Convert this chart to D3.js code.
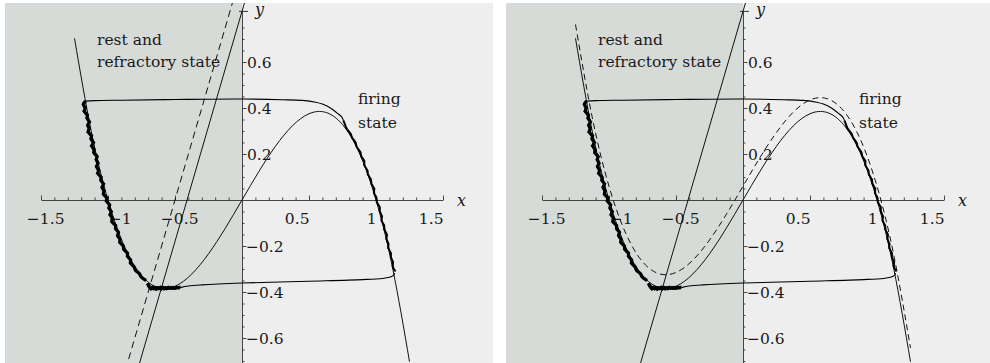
<!DOCTYPE html>
<html>
<head>
<meta charset="utf-8">
<script src="https://cdn.jsdelivr.net/npm/d3@7"></script>
<style>
  html, body { margin: 0; padding: 0; background: #ffffff; }
  svg { display: block; }
  text { font-family: "DejaVu Serif", serif; fill: #1a1a1a; }
</style>
</head>
<body>
<svg id="chart" width="990" height="363"></svg>
<script>
// ---- cubic nullcline y = x - x^3 (sampled) ----
const cubicX = [-1.25,-1.125,-1,-0.875,-0.75,-0.625,-0.5,-0.375,-0.25,-0.125,0,0.125,0.25,0.375,0.5,0.625,0.75,0.875,1,1.125,1.25];
const cubicY = [0.703,0.299,0,-0.205,-0.328,-0.381,-0.375,-0.322,-0.234,-0.123,0,0.123,0.234,0.322,0.375,0.381,0.328,0.205,0,-0.299,-0.703];
// same nullcline raised by the input current
const raisedCubicY = [0.763,0.359,0.06,-0.145,-0.268,-0.321,-0.315,-0.262,-0.174,-0.063,0.06,0.183,0.294,0.382,0.435,0.441,0.388,0.265,0.06,-0.239,-0.643];

// ---- linear nullclines ----
const lineX = [-0.78, 0.02];
const lineY = [-0.74, 0.86];
const shiftedLineX = [-0.87, -0.07];
const shiftedLineY = [-0.74, 0.86];

// ---- noisy trajectory (relaxation cycle) ----
const upperJumpX = [0.757,0.745,0.710,0.660,0.600,0.550,0.450,0.300,0.000,-0.500,-0.900,-1.100,-1.167];
const upperJumpY = [0.345,0.360,0.378,0.400,0.417,0.425,0.433,0.436,0.439,0.437,0.434,0.432,0.430];

const leftBranchX = [-1.167,-1.192,-1.162,-1.187,-1.145,-1.165,-1.129,-1.160,-1.133,-1.158,-1.114,-1.135,-1.099,-1.132,-1.096,-1.115,-1.072,-1.096,-1.066,-1.095,-1.061,-1.086,-1.044,-1.061,-1.024,-1.053,-1.023,-1.043,-1.000,-1.021,-0.979,-1.001,-0.967,-0.994,-0.956,-0.981,-0.935,-0.951,-0.913,-0.937,-0.903,-0.920,-0.877,-0.891,-0.846,-0.863,-0.823,-0.841,-0.798,-0.803,-0.759,-0.759,-0.716];
const leftBranchY = [0.430,0.415,0.400,0.385,0.370,0.355,0.340,0.325,0.310,0.295,0.280,0.265,0.250,0.235,0.220,0.205,0.190,0.175,0.160,0.145,0.130,0.115,0.100,0.085,0.070,0.055,0.040,0.025,0.010,-0.005,-0.020,-0.035,-0.050,-0.065,-0.080,-0.095,-0.110,-0.125,-0.140,-0.155,-0.170,-0.185,-0.200,-0.215,-0.230,-0.245,-0.260,-0.275,-0.290,-0.305,-0.320,-0.335,-0.350];

const plateauX = [-0.705,-0.698,-0.690,-0.680,-0.670,-0.660,-0.650,-0.640,-0.630,-0.620,-0.610,-0.600,-0.590,-0.580,-0.570,-0.560,-0.550,-0.540,-0.530,-0.520,-0.510,-0.500,-0.490,-0.480,-0.470,-0.460];
const plateauY = [-0.362,-0.372,-0.378,-0.390,-0.376,-0.389,-0.377,-0.391,-0.378,-0.388,-0.376,-0.390,-0.377,-0.389,-0.378,-0.388,-0.377,-0.387,-0.378,-0.386,-0.379,-0.385,-0.379,-0.383,-0.380,-0.381];

const lowerJumpX = [-0.460,-0.400,-0.300,0.000,0.500,0.900,1.050,1.100,1.125,1.140];
const lowerJumpY = [-0.381,-0.374,-0.369,-0.361,-0.353,-0.346,-0.341,-0.336,-0.330,-0.318];

const rightBranchX = [1.145,1.120,1.132,1.107,1.115,1.087,1.097,1.073,1.086,1.059,1.065,1.036,1.049,1.024,1.032,1.002,1.007,0.980,0.992,0.961,0.967,0.935,0.940,0.908,0.918,0.885,0.887,0.852,0.851,0.819,0.812,0.778,0.768,0.757];
const rightBranchY = [-0.31,-0.29,-0.27,-0.25,-0.23,-0.21,-0.19,-0.17,-0.15,-0.13,-0.11,-0.09,-0.07,-0.05,-0.03,-0.01,0.01,0.03,0.05,0.07,0.09,0.11,0.13,0.15,0.17,0.19,0.21,0.23,0.25,0.27,0.29,0.31,0.33,0.345];

// ---- ticks ----
const xTickValues = [-1.5,-1,-0.5,0.5,1,1.5];
const xTickLabels = ["\u22121.5","\u22121","\u22120.5","0.5","1","1.5"];
const yTickValues = [-0.6,-0.4,-0.2,0.2,0.4,0.6];
const yTickLabels = ["\u22120.6","\u22120.4","\u22120.2","0.2","0.4","0.6"];

const pts = (xs, ys) => xs.map((v, i) => [v, ys[i]]);

const svg = d3.select("#chart");
const x = d3.scaleLinear().domain([-1.5, 1.5]).range([41, 443]);
const y = d3.scaleLinear().domain([-0.71, 0.82]).range([363.3, 11.4]);

const panels = [
  { id: "a", dx: 0,   left: 5, right: 493, extraLine: true,  raisedCubic: false },
  { id: "b", dx: 501, left: 5, right: 489, extraLine: false, raisedCubic: true }
];

const defs = svg.append("defs");
const panelTop = 3, panelBottom = 363;

panels.forEach(p => {
  const g = svg.append("g").attr("transform", `translate(${p.dx},0)`);

  // backgrounds
  g.append("rect").attr("x", p.left).attr("y", panelTop)
    .attr("width", p.right - p.left).attr("height", panelBottom - panelTop).attr("fill", "#eeeeee");
  g.append("rect").attr("x", p.left).attr("y", panelTop)
    .attr("width", x(0) - p.left).attr("height", panelBottom - panelTop).attr("fill", "#d6dbd8");

  defs.append("clipPath").attr("id", "clip-" + p.id)
    .append("rect").attr("x", p.left).attr("y", panelTop)
    .attr("width", p.right - p.left).attr("height", panelBottom - panelTop);

  // axes
  const axisColor = "#333";
  const xMinor = d3.range(-15, 16).map(i => i / 10)
    .filter(v => Math.abs(v) > 1e-9 && Math.abs(v * 2 - Math.round(v * 2)) > 1e-9);
  const yMinor = d3.range(-14, 17).map(i => i / 20)
    .filter(v => Math.abs(v) > 1e-9 && Math.abs(v * 5 - Math.round(v * 5)) > 1e-9);

  const gx = g.append("g").attr("transform", `translate(0,${y(0)})`).attr("color", axisColor);
  gx.call(d3.axisTop(x).tickValues(xTickValues).tickSize(4.5).tickSizeOuter(0).tickFormat(""));
  const gxm = g.append("g").attr("transform", `translate(0,${y(0)})`).attr("color", axisColor);
  gxm.call(d3.axisTop(x).tickValues(xMinor).tickSize(2.5).tickSizeOuter(0).tickFormat(""));
  gxm.select(".domain").remove();

  const gy = g.append("g").attr("transform", `translate(${x(0)},0)`).attr("color", axisColor);
  gy.call(d3.axisRight(y).tickValues(yTickValues).tickSize(4.5).tickSizeOuter(0).tickFormat(""));
  const gym = g.append("g").attr("transform", `translate(${x(0)},0)`).attr("color", axisColor);
  gym.call(d3.axisRight(y).tickValues(yMinor).tickSize(2.5).tickSizeOuter(0).tickFormat(""));
  gym.select(".domain").remove();
  g.selectAll(".tick line, .domain").attr("stroke-width", 0.9);

  // axis end mark
  g.append("line").attr("x1", x(0) - 3).attr("x2", x(0) + 6)
    .attr("y1", y(0.82)).attr("y2", y(0.82)).attr("stroke", axisColor).attr("stroke-width", 1);

  // tick labels
  g.selectAll(".xl").data(xTickValues).join("text")
    .attr("x", d => x(d) + (d < 0 ? 23.5 : 0.5))
    .attr("y", y(0) + 24)
    .attr("text-anchor", "end")
    .style("font-size", "15.5px")
    .text((d, i) => xTickLabels[i]);
  g.selectAll(".yl").data(yTickValues).join("text")
    .attr("x", d => x(0) + (d < 0 ? 4 : 5))
    .attr("y", d => y(d) + 5.8)
    .style("font-size", "15.5px")
    .text((d, i) => yTickLabels[i]);

  g.append("text").attr("x", x(1.5) + 14).attr("y", y(0) + 6)
    .style("font-size", "16px").style("font-style", "italic").text("x");
  g.append("text").attr("x", x(0) + 13).attr("y", 15)
    .style("font-size", "16px").style("font-style", "italic").text("y");

  // curves
  const plot = g.append("g").attr("clip-path", `url(#clip-${p.id})`);
  const smooth = d3.line().x(d => x(d[0])).y(d => y(d[1])).curve(d3.curveNatural);
  const straight = d3.line().x(d => x(d[0])).y(d => y(d[1]));

  plot.append("path").attr("d", smooth(pts(cubicX, cubicY)))
    .attr("fill", "none").attr("stroke", "#111").attr("stroke-width", 1);
  if (p.raisedCubic) {
    plot.append("path").attr("d", smooth(pts(cubicX, raisedCubicY)))
      .attr("fill", "none").attr("stroke", "#111").attr("stroke-width", 1)
      .attr("stroke-dasharray", "6,4");
  }
  plot.append("path").attr("d", straight(pts(lineX, lineY)))
    .attr("fill", "none").attr("stroke", "#111").attr("stroke-width", 1);
  if (p.extraLine) {
    plot.append("path").attr("d", straight(pts(shiftedLineX, shiftedLineY)))
      .attr("fill", "none").attr("stroke", "#111").attr("stroke-width", 1)
      .attr("stroke-dasharray", "7,4.5");
  }

  // trajectory
  const catmull = d3.line().x(d => x(d[0])).y(d => y(d[1])).curve(d3.curveCatmullRom);
  const basis = d3.line().x(d => x(d[0])).y(d => y(d[1])).curve(d3.curveBasis);
  const jagged = d3.line().x(d => x(d[0])).y(d => y(d[1]));

  [[upperJumpX, upperJumpY], [lowerJumpX, lowerJumpY]].forEach(([xs, ys]) => {
    plot.append("path").attr("d", catmull(pts(xs, ys)))
      .attr("fill", "none").attr("stroke", "#000").attr("stroke-width", 1.1);
  });

  const noisy = [
    { xs: leftBranchX, ys: leftBranchY, core: 3.3, hair: 1.1 },
    { xs: plateauX, ys: plateauY, core: 3.6, hair: 1.2 },
    { xs: rightBranchX, ys: rightBranchY, core: 2.0, hair: 0.9 }
  ];
  noisy.forEach(s => {
    const data = pts(s.xs, s.ys);
    plot.append("path").attr("d", basis(data))
      .attr("fill", "none").attr("stroke", "#000").attr("stroke-width", s.core)
      .attr("stroke-linejoin", "round");
    plot.append("path").attr("d", jagged(data))
      .attr("fill", "none").attr("stroke", "#000").attr("stroke-width", s.hair);
  });

  // annotations
  const note = (tx, ty, str) => g.append("text").attr("x", tx).attr("y", ty)
    .style("font-size", "15.5px").text(str);
  note(x(-1.082), y(0.674), "rest and");
  note(x(-1.082), y(0.578), "refractory state");
  note(x(0.866), y(0.417), "firing");
  note(x(0.866), y(0.313), "state");
});
</script>
</body>
</html>
